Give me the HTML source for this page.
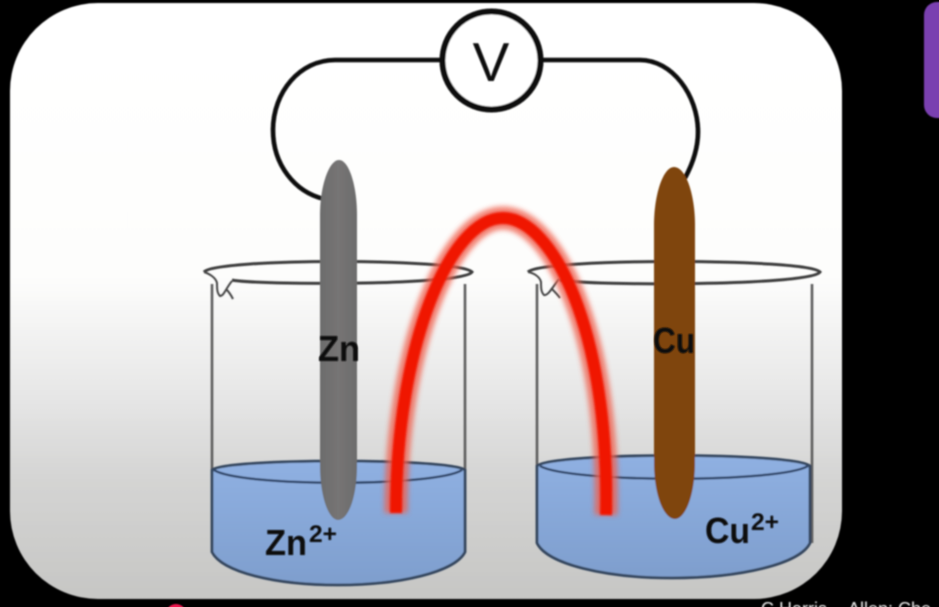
<!DOCTYPE html>
<html>
<head>
<meta charset="utf-8">
<style>
html,body{margin:0;padding:0;background:#000;width:939px;height:607px;overflow:hidden}
svg{display:block}
text{font-family:"Liberation Sans",sans-serif;font-weight:bold;fill:#0a0a0a}
</style>
</head>
<body>
<svg width="939" height="607" viewBox="0 0 939 607" xmlns="http://www.w3.org/2000/svg">
<defs>
<linearGradient id="bg" x1="0" y1="0" x2="0" y2="1">
<stop offset="0" stop-color="#ffffff"/>
<stop offset="0.46" stop-color="#fdfdfc"/>
<stop offset="0.66" stop-color="#e6e6e6"/>
<stop offset="0.8" stop-color="#d4d4d3"/>
<stop offset="1" stop-color="#c6c6c4"/>
</linearGradient>
<linearGradient id="liq" x1="0" y1="0" x2="0" y2="1">
<stop offset="0" stop-color="#8fb0e2"/>
<stop offset="1" stop-color="#7e9ecd"/>
</linearGradient>
<linearGradient id="zn" x1="0" y1="0" x2="1" y2="0">
<stop offset="0" stop-color="#6c6c6c"/>
<stop offset="0.5" stop-color="#767474"/>
<stop offset="1" stop-color="#6c6c6c"/>
</linearGradient>
<filter id="soft" x="-5%" y="-5%" width="110%" height="110%"><feGaussianBlur stdDeviation="0.7"/></filter>
<filter id="halo" x="-20%" y="-20%" width="140%" height="140%"><feGaussianBlur stdDeviation="2.6"/></filter>
<filter id="core" x="-20%" y="-20%" width="140%" height="140%"><feGaussianBlur stdDeviation="1"/></filter>
</defs>

<rect x="924" y="2" width="40" height="116" rx="13" fill="#7a3fb0" filter="url(#soft)"/>
<rect x="10" y="3" width="832" height="596" rx="88" fill="url(#bg)" filter="url(#soft)"/>

<g filter="url(#soft)">
  <!-- left beaker -->
  <path d="M212 284 V552 M465 284 V552" fill="none" stroke="#5e5e5e" stroke-width="2.6"/>
  <path d="M212 470 V552 C222 572 275 585 338 585 C400 585 455 572 465 552 V470 C450 458 225 458 212 470 Z" fill="url(#liq)" stroke="#35465f" stroke-width="2.8"/>
  <path d="M214 470 C240 487 436 487 462 470" fill="none" stroke="#2e4468" stroke-width="2.4"/>
  <path d="M204 272 C215 258 460 258 472 272 C462 286 255 285 232 280" fill="none" stroke="#3c3c3c" stroke-width="3"/>
  <path d="M204 272 C210 274 216 278 217 283 C217 289 217 293 220 296 C224 296 226 288 232 281 M226 289 C229 292 231 295 233 299" fill="none" stroke="#444" stroke-width="2"/>

  <!-- right beaker -->
  <path d="M537 284 V543 M812 284 V543" fill="none" stroke="#5e5e5e" stroke-width="2.6"/>
  <path d="M537 466 V543 C547 564 605 578 672 578 C740 578 800 564 810 543 V466 C795 452 552 452 537 466 Z" fill="url(#liq)" stroke="#35465f" stroke-width="2.8"/>
  <path d="M540 466 C570 483 780 483 808 466" fill="none" stroke="#2e4468" stroke-width="2.4"/>
  <path d="M528 272 C540 258 808 258 820 272 C810 286 590 286 560 280" fill="none" stroke="#3c3c3c" stroke-width="3"/>
  <path d="M528 272 C534 273 540 277 541 282 C541 288 541 292 544 295 C548 296 552 288 559 279 M551 288 C555 292 558 295 560 298" fill="none" stroke="#444" stroke-width="2"/>

  <!-- wires -->
  <path d="M442 60 H335 C300 60 273 92 273 130 C273 165 295 192 324 199" fill="none" stroke="#0a0a0a" stroke-width="4.6"/>
  <path d="M541 60 H640 C672 60 698 95 698 132 C698 150 692 165 685 178" fill="none" stroke="#0a0a0a" stroke-width="4.6"/>

  <!-- voltmeter -->
  <circle cx="491.5" cy="60.5" r="49" fill="#ffffff" stroke="#0a0a0a" stroke-width="6"/>

  <!-- electrodes -->
  <path d="M339 160 C329 160 320 186 320 215 V465 C320 498 329 520 338 520 C348 520 357 498 357 465 V215 C357 186 349 160 339 160 Z" fill="url(#zn)"/>
  <path d="M674 167 C663 167 654 195 654 225 V462 C654 496 664 519 675 519 C685 519 695 496 695 462 V225 C695 195 686 167 674 167 Z" fill="#7f440f"/>
</g>

<!-- salt bridge -->
<path d="M396 513 C396 345 450 218 503 218 C552 218 610 330 606 515" fill="none" stroke="#f0604e" stroke-width="23" filter="url(#halo)" opacity="0.8"/>
<path d="M396 513 C396 345 450 218 503 218 C552 218 610 330 606 515" fill="none" stroke="#f01400" stroke-width="12" filter="url(#core)"/>

<g filter="url(#soft)">
  <text x="491" y="81" font-size="55" text-anchor="middle" style="font-weight:normal" fill="#111">V</text>
  <text x="318" y="361" font-size="36" textLength="42" lengthAdjust="spacingAndGlyphs">Zn</text>
  <text x="653" y="353" font-size="36" textLength="42" lengthAdjust="spacingAndGlyphs">Cu</text>
  <text x="265" y="555" font-size="36" textLength="42" lengthAdjust="spacingAndGlyphs">Zn</text>
  <text x="309" y="542" font-size="24" textLength="28" lengthAdjust="spacingAndGlyphs">2+</text>
  <text x="705" y="543" font-size="36" textLength="45" lengthAdjust="spacingAndGlyphs">Cu</text>
  <text x="751" y="530" font-size="24" textLength="28" lengthAdjust="spacingAndGlyphs">2+</text>
</g>

<circle cx="176" cy="614" r="10" fill="#f0124f" filter="url(#soft)"/>
<text x="761" y="615" font-size="18" style="font-weight:normal;fill:#e8e8e8" filter="url(#soft)">C Harris</text>
<text x="848" y="615" font-size="18" style="font-weight:normal;fill:#e8e8e8" filter="url(#soft)">Allen: Che</text>
</svg>
</body>
</html>
